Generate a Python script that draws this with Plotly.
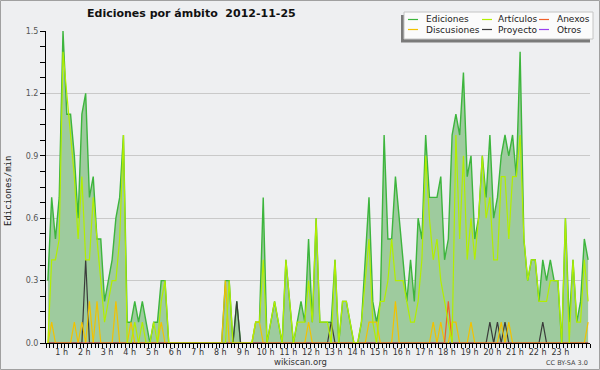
import plotly.graph_objects as go

# 10-minute bins over the day (bin centres, in minutes)
minutes = list(range(5, 1440, 10))

ediciones = [
    0.3, 0.7, 0.5, 0.7, 1.5, 1.1, 1.1, 0.9, 0.6, 1.1, 1.2, 0.7,
    0.8, 0.5, 0.5, 0.2, 0.3, 0.4, 0.6, 0.7, 1.0, 0.1, 0.1, 0.2,
    0.1, 0.2, 0.1, 0.0, 0.1, 0.1, 0.3, 0.3, 0.0, 0.0, 0.0, 0.0,
    0.0, 0.0, 0.0, 0.0, 0.0, 0.0, 0.0, 0.0, 0.0, 0.0, 0.0, 0.3,
    0.3, 0.0, 0.2, 0.0, 0.0, 0.0, 0.0, 0.1, 0.1, 0.7, 0.0, 0.1,
    0.2, 0.1, 0.0, 0.4, 0.2, 0.0, 0.1, 0.2, 0.1, 0.5, 0.1, 0.6,
    0.1, 0.1, 0.1, 0.1, 0.4, 0.0, 0.2, 0.2, 0.1, 0.0, 0.0, 0.1,
    0.4, 0.7, 0.2, 0.1, 0.2, 1.0, 0.5, 0.5, 0.8, 0.6, 0.4, 0.2,
    0.4, 0.2, 0.6, 0.5, 1.0, 0.7, 0.7, 0.7, 0.8, 0.4, 0.5, 1.0,
    1.1, 1.0, 1.3, 0.8, 0.9, 0.5, 0.6, 0.9, 0.7, 1.0, 0.6, 0.7,
    0.9, 1.0, 0.9, 1.0, 0.8, 1.4, 0.5, 0.3, 0.4, 0.4, 0.2, 0.4,
    0.3, 0.4, 0.3, 0.3, 0.0, 0.6, 0.1, 0.4, 0.1, 0.2, 0.5, 0.4,
]

articulos = [
    0.0, 0.4, 0.4, 0.5, 1.4, 1.2, 1.0, 0.8, 0.5, 0.8, 0.4, 0.4,
    0.7, 0.5, 0.3, 0.1, 0.2, 0.3, 0.3, 0.5, 1.0, 0.0, 0.0, 0.1,
    0.0, 0.1, 0.0, 0.0, 0.1, 0.0, 0.2, 0.3, 0.0, 0.0, 0.0, 0.0,
    0.0, 0.0, 0.0, 0.0, 0.0, 0.0, 0.0, 0.0, 0.0, 0.0, 0.0, 0.0,
    0.3, 0.0, 0.0, 0.0, 0.0, 0.0, 0.0, 0.1, 0.1, 0.4, 0.0, 0.1,
    0.2, 0.1, 0.0, 0.4, 0.2, 0.0, 0.1, 0.1, 0.1, 0.3, 0.1, 0.6,
    0.1, 0.1, 0.1, 0.0, 0.4, 0.0, 0.2, 0.2, 0.1, 0.0, 0.0, 0.1,
    0.3, 0.5, 0.1, 0.0, 0.2, 0.2, 0.3, 0.5, 0.3, 0.3, 0.3, 0.2,
    0.1, 0.1, 0.2, 0.4, 0.9, 0.6, 0.4, 0.5, 0.3, 0.2, 0.1, 0.0,
    1.0, 0.5, 0.9, 0.4, 0.6, 0.4, 0.6, 0.9, 0.6, 0.7, 0.4, 0.4,
    0.8, 0.8, 0.5, 0.8, 0.8, 1.0, 0.5, 0.3, 0.4, 0.4, 0.2, 0.2,
    0.2, 0.3, 0.3, 0.3, 0.0, 0.6, 0.0, 0.4, 0.1, 0.1, 0.4, 0.2,
]

anexos = [
    0, 0, 0, 0, 0, 0, 0, 0, 0, 0, 0, 0,
    0, 0, 0, 0, 0, 0, 0, 0, 0, 0, 0, 0,
    0, 0, 0, 0, 0, 0, 0, 0, 0, 0, 0, 0,
    0, 0, 0, 0, 0, 0, 0, 0, 0, 0, 0, 0,
    0, 0, 0, 0, 0, 0, 0, 0, 0, 0, 0, 0,
    0, 0, 0, 0, 0, 0, 0, 0, 0, 0, 0, 0,
    0, 0, 0, 0, 0, 0, 0, 0, 0, 0, 0, 0,
    0, 0, 0, 0, 0, 0, 0, 0, 0, 0, 0, 0,
    0, 0, 0, 0, 0, 0, 0, 0, 0, 0, 0.2, 0,
    0, 0, 0, 0, 0, 0, 0, 0, 0, 0, 0, 0,
    0, 0, 0, 0, 0, 0, 0, 0, 0, 0, 0, 0,
    0, 0, 0, 0, 0, 0, 0, 0, 0, 0, 0, 0,
]

discusiones = [
    0, 0.1, 0, 0, 0, 0, 0, 0.1, 0, 0.1, 0, 0.2,
    0, 0.2, 0, 0, 0, 0, 0.2, 0, 0, 0, 0.1, 0,
    0, 0, 0, 0, 0, 0, 0.1, 0, 0, 0, 0, 0,
    0, 0, 0, 0, 0, 0, 0, 0, 0, 0, 0, 0.3,
    0, 0, 0, 0, 0, 0, 0, 0.1, 0.1, 0, 0, 0,
    0, 0, 0, 0, 0, 0, 0, 0, 0, 0.1, 0, 0,
    0, 0, 0, 0, 0, 0, 0, 0, 0, 0, 0, 0,
    0, 0.1, 0.1, 0.1, 0, 0, 0, 0, 0.2, 0, 0, 0,
    0, 0, 0, 0, 0, 0, 0.1, 0, 0.1, 0, 0, 0.1,
    0.1, 0, 0, 0, 0.1, 0, 0, 0, 0, 0, 0, 0,
    0.1, 0, 0.1, 0, 0, 0, 0, 0, 0, 0, 0, 0,
    0, 0, 0, 0, 0, 0, 0, 0, 0, 0, 0, 0.1,
]

proyecto = [
    0, 0, 0, 0, 0, 0, 0, 0, 0, 0, 0.4, 0,
    0, 0, 0, 0, 0, 0, 0, 0, 0, 0, 0, 0,
    0, 0, 0, 0, 0, 0, 0, 0, 0, 0, 0, 0,
    0, 0, 0, 0, 0, 0, 0, 0, 0, 0, 0, 0,
    0, 0, 0.2, 0, 0, 0, 0, 0, 0, 0, 0, 0,
    0, 0, 0, 0, 0, 0, 0, 0, 0, 0, 0, 0,
    0, 0, 0, 0.1, 0, 0, 0, 0, 0, 0, 0, 0,
    0, 0, 0, 0, 0, 0, 0, 0, 0, 0, 0, 0,
    0, 0, 0, 0, 0, 0, 0, 0, 0, 0, 0, 0,
    0, 0, 0, 0, 0, 0, 0, 0, 0, 0.1, 0, 0.1,
    0, 0.1, 0, 0, 0, 0, 0, 0, 0, 0, 0, 0.1,
    0, 0, 0, 0, 0, 0, 0, 0, 0, 0, 0, 0,
]

otros = [
    0, 0, 0, 0, 0, 0, 0, 0, 0, 0, 0, 0,
    0, 0, 0, 0, 0, 0, 0, 0, 0, 0, 0, 0,
    0, 0, 0, 0, 0, 0, 0, 0, 0, 0, 0, 0,
    0, 0, 0, 0, 0, 0, 0, 0, 0, 0, 0, 0,
    0, 0, 0, 0, 0, 0, 0, 0, 0, 0, 0, 0,
    0, 0, 0, 0, 0, 0, 0, 0, 0, 0, 0, 0,
    0, 0, 0, 0, 0, 0, 0, 0, 0, 0, 0, 0,
    0, 0, 0, 0, 0, 0, 0, 0, 0, 0, 0, 0,
    0, 0, 0, 0, 0, 0, 0, 0, 0, 0, 0, 0,
    0, 0, 0, 0, 0, 0, 0, 0, 0, 0, 0, 0,
    0, 0, 0, 0, 0, 0, 0, 0, 0, 0, 0, 0,
    0, 0, 0, 0, 0, 0, 0, 0, 0, 0, 0, 0,
]

hour_ticks = [60, 120, 180, 240, 300, 360, 420, 480, 540, 600, 660, 720,
              780, 840, 900, 960, 1020, 1080, 1140, 1200, 1260, 1320, 1380]
hour_labels = ["1 h", "2 h", "3 h", "4 h", "5 h", "6 h", "7 h", "8 h", "9 h",
               "10 h", "11 h", "12 h", "13 h", "14 h", "15 h", "16 h", "17 h",
               "18 h", "19 h", "20 h", "21 h", "22 h", "23 h"]
y_ticks = [0.0, 0.3, 0.6, 0.9, 1.2, 1.5]
y_labels = ["0.0", "0.3", "0.6", "0.9", "1.2", "1.5"]

colors = {
    "Ediciones": "#3db53d",
    "Artículos": "#b2ee00",
    "Anexos": "#f0602a",
    "Discusiones": "#f2c200",
    "Proyecto": "#3a3a3a",
    "Otros": "#9a40ee",
}
values = {
    "Ediciones": ediciones,
    "Artículos": articulos,
    "Anexos": anexos,
    "Discusiones": discusiones,
    "Proyecto": proyecto,
    "Otros": otros,
}

BG = "#eeeff1"
FONT = "DejaVu Sans"

fig = go.Figure()
fig.add_trace(go.Scatter(
    x=minutes, y=ediciones, mode="lines", name="Ediciones",
    line=dict(color=colors["Ediciones"], width=1.4),
    fill="tozeroy", fillcolor="#9ecb9e", showlegend=False,
))
for name in ["Otros", "Proyecto", "Discusiones", "Anexos", "Artículos"]:
    fig.add_trace(go.Scatter(
        x=minutes, y=values[name], mode="lines", name=name,
        line=dict(color=colors[name], width=1.2), showlegend=False,
    ))

# plot-area geometry (pixels) for placing decorations
L, R, T, B = 46, 590, 31, 343


def px(x):
    return (x - L) / (R - L)


def py(y):
    return (B - y) / (B - T)


shapes = []
annotations = []

# outer frame of the image
shapes.append(dict(type="rect", xref="paper", yref="paper",
                   x0=px(0.5), x1=px(599.5), y0=py(0.5), y1=py(369.5),
                   line=dict(color="#a0a0a0", width=1), fillcolor="rgba(0,0,0,0)",
                   layer="above"))

# legend box with shadow
shapes.append(dict(type="rect", xref="paper", yref="paper",
                   x0=px(401), x1=px(590), y0=py(15), y1=py(42.5),
                   line=dict(width=0), fillcolor="#7a7a7a", layer="above"))
shapes.append(dict(type="rect", xref="paper", yref="paper",
                   x0=px(404), x1=px(593), y0=py(12), y1=py(39),
                   line=dict(color="#c4c4c4", width=1), fillcolor="#fbfbfb",
                   layer="above"))

legend_layout = [
    ("Ediciones", 408, 424, 19.5),
    ("Artículos", 482, 496, 19.5),
    ("Anexos", 539, 555, 19.5),
    ("Discusiones", 408, 424, 29.5),
    ("Proyecto", 482, 496, 29.5),
    ("Otros", 539, 555, 29.5),
]
for name, lx, tx, ly in legend_layout:
    shapes.append(dict(type="line", xref="paper", yref="paper",
                       x0=px(lx), x1=px(lx + 10), y0=py(ly), y1=py(ly),
                       line=dict(color=colors[name], width=1.2), layer="above"))
    annotations.append(dict(text=name, xref="paper", yref="paper",
                            x=px(tx), y=py(ly), xanchor="left", yanchor="middle",
                            showarrow=False,
                            font=dict(family=FONT, size=9, color="#222222")))

# title
annotations.append(dict(text="<b>Ediciones por ámbito \u00a02012-11-25</b>",
                        xref="paper", yref="paper", x=px(85), y=py(14),
                        xanchor="left", yanchor="middle", showarrow=False,
                        font=dict(family=FONT, size=11, color="#111111")))
# y-axis title
annotations.append(dict(text="Ediciones/min", xref="paper", yref="paper",
                        x=px(8), y=py(191), xanchor="center", yanchor="middle",
                        textangle=-90, showarrow=False,
                        font=dict(family="DejaVu Sans Mono", size=9, color="#222222")))
# footer
annotations.append(dict(text="wikiscan.org", xref="paper", yref="paper",
                        x=px(300), y=py(362), xanchor="center", yanchor="middle",
                        showarrow=False,
                        font=dict(family=FONT, size=8.5, color="#333333")))
annotations.append(dict(text="CC BY-SA 3.0", xref="paper", yref="paper",
                        x=px(590), y=py(362.5), xanchor="right", yanchor="middle",
                        showarrow=False,
                        font=dict(family=FONT, size=6.5, color="#444444")))

fig.update_layout(
    width=600, height=370,
    margin=dict(l=L, r=600 - R, t=T, b=370 - B, pad=0),
    paper_bgcolor=BG, plot_bgcolor=BG,
    showlegend=False,
    shapes=shapes, annotations=annotations,
    font=dict(family=FONT, size=9, color="#333333"),
    xaxis=dict(
        range=[0, 1440], showgrid=False, zeroline=False,
        showline=True, linecolor="black", linewidth=1,
        ticks="outside", ticklen=4, tickwidth=1, tickcolor="black",
        tickmode="array", tickvals=hour_ticks, ticktext=hour_labels,
        tickangle=0, ticklabelshift=-7, ticklabelstandoff=-3,
        tickfont=dict(family=FONT, size=8, color="#333333"),
        minor=dict(ticks="outside", dtick=10, tick0=0, ticklen=4,
                   tickwidth=1, tickcolor="black", showgrid=False),
    ),
    yaxis=dict(
        range=[0, 1.5], showgrid=True, gridcolor="#c9c9c9", gridwidth=1,
        zeroline=False, showline=True, linecolor="black", linewidth=1,
        ticks="outside", ticklen=5, tickwidth=1, tickcolor="black",
        tickvals=y_ticks, ticktext=y_labels,
        tickfont=dict(family=FONT, size=8, color="#555555"),
        minor=dict(ticks="outside", dtick=0.075, tick0=0, ticklen=5,
                   tickwidth=1, tickcolor="black", showgrid=False),
    ),
)

fig.write_html(
    "out.html",
    include_plotlyjs=True,
    config={"displayModeBar": False},
    post_script="document.body.style.margin='0';document.body.style.overflow='hidden';",
)
